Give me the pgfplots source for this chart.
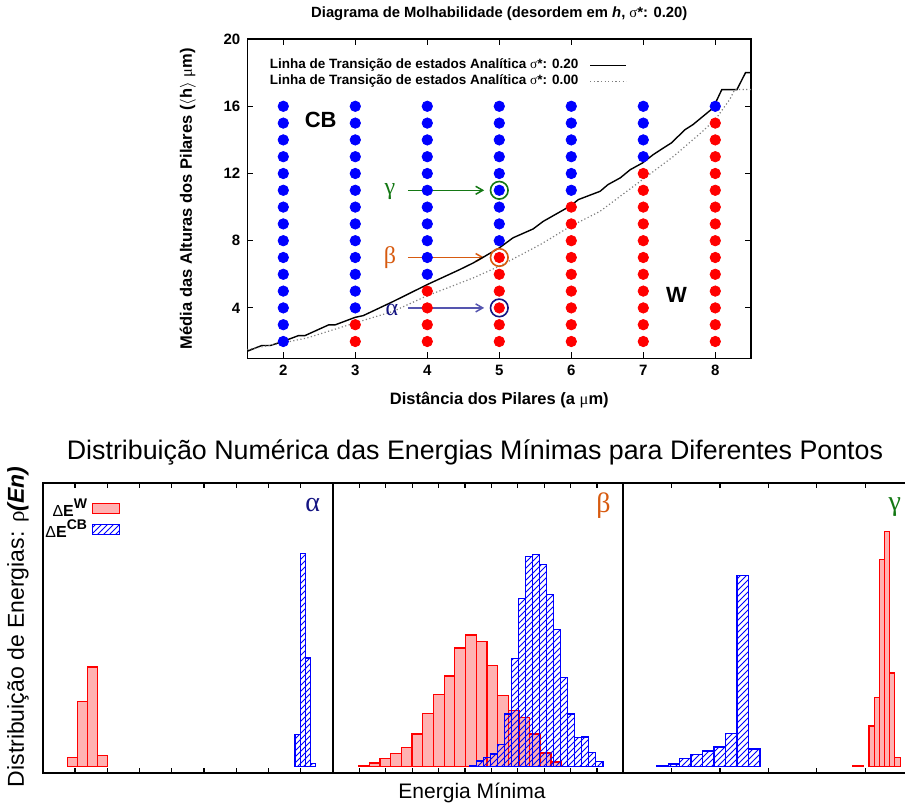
\documentclass[border=0pt]{standalone}
\usepackage{fontspec}
\setmainfont{Liberation Sans}
\newfontfamily\greek{Liberation Serif}
\usepackage{pgfplots}
\pgfplotsset{compat=1.18}
\usetikzlibrary{patterns,arrows.meta}

\definecolor{gamgreen}{RGB}{20,120,20}
\definecolor{betorange}{RGB}{215,90,15}
\definecolor{alpnavy}{RGB}{20,20,130}
\definecolor{alparrow}{RGB}{85,85,175}
\definecolor{redfill}{RGB}{255,178,178}

\pgfplotsset{
  panel/.style={
    scale only axis, width=145.15pt, height=144.7pt, anchor=south west,
    ymin=-6.5, ymax=283, ytick=\empty,
    xtick={1,...,10}, xticklabels={},
    major tick length=2.5pt,
    axis line style={line width=1pt},
    tick style={line width=0.6pt, black},
  },
  wbar/.style={ybar interval, draw=red, fill=redfill, line width=0.6pt,
    legend image code/.code={\draw[##1] (0pt,-2.5pt) rectangle (13.8pt,2.5pt);}},
  cbbar/.style={ybar interval, draw=blue, pattern=north east lines, pattern color=blue, line width=0.6pt,
    legend image code/.code={\draw[##1] (0pt,-2.5pt) rectangle (13.8pt,2.5pt);}},
  arr/.style={-{Straight Barb[length=3.5pt,width=4pt]}, line width=0.75pt, forget plot},
}

\begin{document}
\begin{tikzpicture}
\useasboundingbox (0pt,0pt) rectangle (452.5pt,-406pt);

% --- diagrama de molhabilidade ---
\begin{axis}[
  at={(123.65pt,-179.15pt)}, anchor=south west,
  scale only axis, width=252pt, height=159.6pt,
  xmin=1.5, xmax=8.5, ymin=1, ymax=20,
  xtick={2,...,8}, ytick={4,8,...,20},
  major tick length=3pt,
  axis line style={line width=0.8pt},
  tick style={line width=0.6pt, black},
  /pgf/number format/assume math mode=true,
  tick label style={font=\bfseries\fontsize{7.5}{9}\selectfont},
  every axis title shift=0pt,
  title={Diagrama de Molhabilidade (desordem em \textit{h}, {\greek\mdseries σ}*: 0.20)},
  title style={font=\bfseries\fontsize{7.4}{9}\selectfont, at={(axis description cs:0.5,1.08)}, anchor=center},
  xlabel={Distância dos Pilares (a {\greek\mdseries μ}m)},
  ylabel={Média das Alturas dos Pilares ($\langle$h$\rangle$ {\greek\mdseries μ}m)},
  label style={font=\bfseries\fontsize{8.25}{10}\selectfont},
  xlabel style={at={(axis description cs:0.5,-0.131)}, anchor=center},
  ylabel style={at={(axis description cs:-0.118,0.5)}, anchor=center},
  legend style={at={(axis description cs:0.03,0.955)}, anchor=north west, draw=none, fill=none,
    font=\bfseries\fontsize{6.75}{8}\selectfont, legend cell align=right,
    nodes={inner sep=0.5pt}, row sep=0.6pt, column sep=5pt},
  legend plot pos=right,
  legend image code/.code={\draw[#1] (0pt,0pt) -- (18pt,0pt);},
]
\addplot[only marks, mark=*, mark size=2.6pt, color=blue, forget plot] coordinates {
  (2,2) (2,3) (2,4) (2,5) (2,6) (2,7) (2,8) (2,9) (2,10) (2,11) (2,12) (2,13) (2,14) (2,15) (2,16)
  (3,4) (3,5) (3,6) (3,7) (3,8) (3,9) (3,10) (3,11) (3,12) (3,13) (3,14) (3,15) (3,16)
  (4,6) (4,7) (4,8) (4,9) (4,10) (4,11) (4,12) (4,13) (4,14) (4,15) (4,16)
  (5,8) (5,9) (5,10) (5,11) (5,12) (5,13) (5,14) (5,15) (5,16)
  (6,11) (6,12) (6,13) (6,14) (6,15) (6,16)
  (7,13) (7,14) (7,15) (7,16)
  (8,16)
};
\addplot[only marks, mark=*, mark size=2.6pt, color=red, forget plot] coordinates {
  (3,2) (3,3)
  (4,2) (4,3) (4,4) (4,5)
  (5,2) (5,3) (5,4) (5,5) (5,6) (5,7)
  (6,2) (6,3) (6,4) (6,5) (6,6) (6,7) (6,8) (6,9) (6,10)
  (7,2) (7,3) (7,4) (7,5) (7,6) (7,7) (7,8) (7,9) (7,10) (7,11) (7,12)
  (8,2) (8,3) (8,4) (8,5) (8,6) (8,7) (8,8) (8,9) (8,10) (8,11) (8,12) (8,13) (8,14) (8,15)
};
\addplot[only marks, mark=o, mark size=4.4pt, line width=0.8pt, color=gamgreen, forget plot] coordinates {(5,11)};
\addplot[only marks, mark=o, mark size=4.4pt, line width=0.8pt, color=betorange, forget plot] coordinates {(5,7)};
\addplot[only marks, mark=o, mark size=4.4pt, line width=0.8pt, color=alpnavy, forget plot] coordinates {(5,4)};
\addplot[arr, draw=gamgreen] coordinates {(3.73,11) (4.79,11)};
\addplot[arr, draw=betorange] coordinates {(3.73,7.0) (4.79,7.0)};
\addplot[arr, draw=alparrow] coordinates {(3.73,4) (4.79,4)};

\addplot[black, line width=0.7pt] coordinates {
  (1.5,1.42) (1.70,1.76) (1.82,1.76) (2.0,2.01) (2.21,2.35) (2.30,2.35) (2.63,2.99) (2.72,2.99)
  (3.0,3.44) (3.11,3.54) (3.53,4.39) (4.0,5.39) (4.45,6.28) (4.64,6.68) (5.0,7.57) (5.19,8.17)
  (5.47,8.70) (5.61,9.15) (5.98,10.05) (6.10,10.45) (6.40,10.94) (6.51,11.34) (6.68,11.74)
  (6.82,12.23) (6.99,12.63) (7.14,13.13) (7.28,13.52) (7.39,13.82) (7.58,14.61) (7.69,14.91)
  (7.97,15.90) (8.09,16.99) (8.30,16.99) (8.42,18.0) (8.5,18.0)
};
\addlegendentry{Linha de Transição de estados Analítica {\greek\mdseries σ}*: 0.20}
\addplot[gray, dash pattern=on 0.6pt off 1.2pt, line width=0.6pt] coordinates {
  (1.5,1.52) (2.0,1.92) (2.33,2.21) (3.0,3.11) (3.53,3.80) (4.0,4.73) (4.22,5.09) (4.64,5.79)
  (5.0,6.48) (5.57,7.77) (5.99,8.86) (6.40,9.75) (6.99,11.64) (7.42,13.02) (7.80,14.42)
  (8.0,15.21) (8.20,16.40) (8.27,17.0) (8.5,17.0)
};
\addlegendentry{Linha de Transição de estados Analítica {\greek\mdseries σ}*: 0.00}

\node[font=\bfseries\fontsize{11}{13}\selectfont] at (axis cs:2.52,15.18) {CB};
\node[font=\bfseries\fontsize{11}{13}\selectfont] at (axis cs:7.46,4.79) {W};
\node[text=gamgreen, font={\greek\fontsize{12}{14}\selectfont}] at (axis cs:3.48,10.92) {γ};
\node[text=betorange, font={\greek\fontsize{12}{14}\selectfont}] at (axis cs:3.48,7.0) {β};
\node[text=alpnavy, font={\greek\fontsize{12}{14}\selectfont}] at (axis cs:3.51,3.9) {α};
\end{axis}

% --- painel alpha ---
\begin{axis}[panel, at={(21.35pt,-386.35pt)}, xmin=0, xmax=9,
  legend style={at={(axis description cs:0.29,0.965)}, anchor=north east, draw=none, fill=none,
    font=\fontsize{8}{9}\selectfont, legend cell align=right,
    nodes={inner sep=0.3pt}, row sep=-0.5pt, column sep=2pt},
  legend plot pos=right]
\addplot[wbar] coordinates {(0.762,9) (1.075,64.7) (1.387,99.3) (1.700,11) (2.012,0)};
\addlegendentry{Δ\textbf{E}\raisebox{0.5em}{\fontsize{7}{7}\selectfont\bfseries W}}
\addplot[cbbar] coordinates {(7.82,31.7) (7.983,212.7) (8.145,108.3) (8.308,2.7) (8.47,0)};
\addlegendentry{Δ\textbf{E}\raisebox{0.5em}{\fontsize{7}{7}\selectfont\bfseries CB}}
\node[text=alpnavy, font={\greek\fontsize{14}{16}\selectfont}] at (axis cs:8.37,261) {α};
\end{axis}

% --- painel beta ---
\begin{axis}[panel, at={(166.5pt,-386.35pt)}, xmin=0, xmax=11]
\addplot[wbar] coordinates {(0.972,0.7) (1.377,3.3) (1.782,7.7) (2.187,13) (2.592,19) (2.997,32.3)
  (3.402,53) (3.807,71.7) (4.212,90.3) (4.617,118.3) (5.022,131.3) (5.427,124.7) (5.832,100.7)
  (6.237,71) (6.642,55.7) (7.047,49) (7.452,32.3) (7.857,13.3) (8.262,4.3) (8.667,0)};
\addplot[cbbar] coordinates {(5.177,0.7) (5.443,5.3) (5.709,9) (5.974,12.3) (6.240,21.7) (6.506,52.3)
  (6.772,107.7) (7.038,167.7) (7.303,209.7) (7.569,211.7) (7.835,201.7) (8.101,171.7) (8.367,136.7)
  (8.632,89) (8.898,52.3) (9.164,29) (9.430,29.3) (9.696,14) (9.961,5) (10.227,0)};
\node[text=betorange, font={\greek\fontsize{14}{16}\selectfont}] at (axis cs:10.25,261) {β};
\end{axis}

% --- painel gamma ---
\begin{axis}[panel, at={(311.65pt,-386.35pt)}, xmin=0, xmax=6]
\addplot[cbbar] coordinates {(0.689,0.7) (0.926,2.3) (1.163,7.7) (1.400,11.7) (1.638,15.3) (1.875,19.3)
  (2.112,32.7) (2.349,191) (2.587,17.3) (2.824,0)};
\addplot[wbar] coordinates {(4.745,0.5) (4.855,0.5) (4.966,0)};
\addplot[wbar] coordinates {(5.076,40.3) (5.186,68.7) (5.289,207) (5.399,235) (5.510,93.3) (5.613,9) (5.723,0)};
\node[text=gamgreen, font={\greek\fontsize{14}{16}\selectfont}] at (axis cs:5.61,259.5) {γ};
\end{axis}

\node[font=\fontsize{13.4}{16}\selectfont] at (237.5pt,-226pt) {Distribuição Numérica das Energias Mínimas para Diferentes Pontos};
\node[font=\fontsize{10.5}{12}\selectfont] at (236pt,-396.5pt) {Energia Mínima};
\node[rotate=90, font=\fontsize{11.5}{14}\selectfont] at (9pt,-313.5pt) {Distribuição de Energias: {\greek ρ}\textbf{\textit{(En)}}};
\end{tikzpicture}
\end{document}
